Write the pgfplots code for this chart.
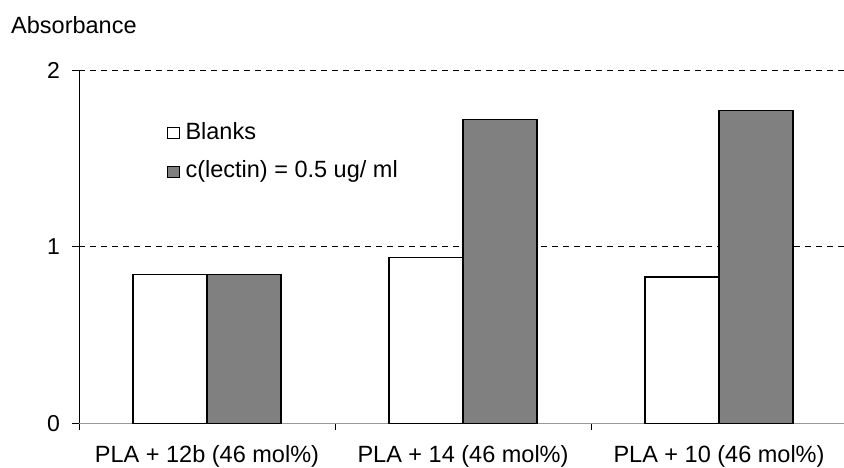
\documentclass[border=0pt]{standalone}
\usepackage{pgfplots}
\pgfplotsset{compat=1.18}
\usepackage{fontspec}
\setmainfont{Liberation Sans}
\definecolor{bargray}{HTML}{808080}
\begin{document}
\fontsize{23.5bp}{28bp}\selectfont
\begin{tikzpicture}[x=1bp,y=1bp]
\clip (0,0) rectangle (844,468);
\useasboundingbox (0,0) rectangle (844,468);
\begin{axis}[
  at={(79bp,44.7bp)}, anchor=south west,
  scale only axis, width=768bp, height=353bp,
  xmin=-0.5, xmax=2.5, ymin=0, ymax=2,
  ybar=0pt, bar width=74bp,
  axis x line*=bottom, axis y line*=left,
  x axis line style={draw=gray!80, line width=1pt},
  y axis line style={draw=black, line width=0.8pt},
  xtick={0,1,2},
  xticklabels={PLA + 12b (46 mol\%), PLA + 14 (46 mol\%), PLA + 10 (46 mol\%)},
  xtick style={draw=none},
  minor xtick={-0.5,0.5,1.5,2.5},
  minor x tick style={draw=black, line width=0.6pt},
  minor tick length=7bp,
  tick align=outside,
  ytick={0,1,2},
  major tick length=7bp,
  y tick style={draw=black, line width=0.6pt},
  extra y ticks={1,2},
  extra y tick labels={},
  extra y tick style={grid=major, major tick length=0pt},
  grid style={dashed, black, line width=0.6pt, dash pattern=on 6bp off 5bp},
  /pgf/number format/assume math mode=true,
  yticklabel style={font=\fontsize{23bp}{27bp}\selectfont, xshift=-4bp},
  xticklabel style={font=\fontsize{23.5bp}{28bp}\selectfont, yshift=-7bp},
  legend style={at={(rel axis cs:0.111,0.865)}, anchor=north west, draw=none, fill=none,
    font=\fontsize{23.5bp}{28bp}\selectfont, row sep=14bp},
  legend cell align=left,
  legend image code/.code={\draw[#1, line width=0.8pt] (0bp,-6bp) rectangle (12bp,5bp); \path (15bp,0bp);},
]
\addplot[draw=black, fill=white, line width=1.4pt] coordinates {(0,0.843) (1,0.939) (2,0.828)};
\addplot[draw=black, fill=bargray, line width=1.4pt] coordinates {(0,0.843) (1,1.722) (2,1.773)};
\legend{Blanks, c(lectin) = 0.5 ug/ ml}
\end{axis}
\node[anchor=base west, inner sep=0pt] at (11bp,434bp) {Absorbance};
\end{tikzpicture}
\end{document}
